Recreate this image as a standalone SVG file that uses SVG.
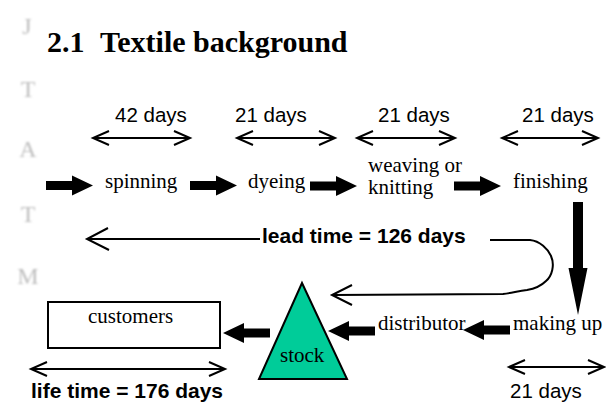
<svg xmlns="http://www.w3.org/2000/svg" width="606" height="402" viewBox="0 0 606 402">
<style>
.serif{font-family:"Liberation Serif","Times New Roman",serif;font-size:21px;fill:#000}
.sans{font-family:"Liberation Sans",Arial,sans-serif;font-size:20.5px;fill:#000}
.bold{font-family:"Liberation Sans",Arial,sans-serif;font-size:21px;font-weight:bold;fill:#000}
.title{font-family:"Liberation Serif","Times New Roman",serif;font-size:30px;font-weight:bold;fill:#000}
.wm{font-family:"Liberation Serif","Times New Roman",serif;font-size:24px;fill:#bdbdbd;text-anchor:middle}
.thin{stroke:#000;stroke-width:2;fill:none}
.block{fill:#000}
</style>
<defs>
<marker id="v" markerUnits="userSpaceOnUse" markerWidth="20" markerHeight="18" viewBox="-18 -9 20 18" refX="0" refY="0" orient="auto-start-reverse" overflow="visible">
<path d="M-16,-7 L0,0 L-16,7" fill="none" stroke="#000" stroke-width="2"/>
</marker>
<path id="blk" d="M0,-4.5 H26 V-10 L47,0 L26,10 V4.5 H0 Z"/>
<filter id="soft" x="-20%" y="-20%" width="140%" height="140%"><feGaussianBlur stdDeviation="0.9"/></filter>
</defs>

<g id="watermark" filter="url(#soft)">
<text class="wm" x="27" y="34">J</text>
<text class="wm" x="28" y="97">T</text>
<text class="wm" x="28" y="157">A</text>
<text class="wm" x="28" y="222">T</text>
<text class="wm" x="28" y="284">M</text>
</g>

<g id="title">
<text class="title" x="47" y="52">2.1</text>
<text class="title" x="100" y="52">Textile background</text>
</g>

<g id="durations">
<text class="sans" x="115" y="122">42 days</text>
<text class="sans" x="235" y="122">21 days</text>
<text class="sans" x="378" y="122">21 days</text>
<text class="sans" x="522" y="122">21 days</text>
<text class="sans" x="510" y="398">21 days</text>
<text class="bold" x="262" y="243">lead time = 126 days</text>
<text class="bold" x="31" y="398">life time = 176 days</text>
</g>

<g id="spinning"><text class="serif" x="105" y="188">spinning</text></g>
<g id="dyeing"><text class="serif" x="248" y="188">dyeing</text></g>
<g id="weaving"><text class="serif" x="368" y="172">weaving or</text><text class="serif" x="368" y="194">knitting</text></g>
<g id="finishing"><text class="serif" x="513" y="188">finishing</text></g>
<g id="making-up"><text class="serif" x="513" y="330">making up</text></g>
<g id="distributor"><text class="serif" x="378" y="330">distributor</text></g>
<g id="stock">
<polygon points="302,283 347,379 259,379" fill="#00cc99" stroke="#000" stroke-width="2" stroke-linejoin="miter"/>
<text class="serif" x="280" y="362">stock</text>
</g>
<g id="customers">
<rect x="48" y="302" width="172" height="46" fill="#fff" stroke="#000" stroke-width="2"/>
<text class="serif" x="88" y="323">customers</text>
</g>

<g id="connectors">
<line class="thin" x1="93" y1="138" x2="190" y2="138" marker-start="url(#v)" marker-end="url(#v)"/>
<line class="thin" x1="237" y1="138" x2="335" y2="138" marker-start="url(#v)" marker-end="url(#v)"/>
<line class="thin" x1="357" y1="138" x2="455" y2="138" marker-start="url(#v)" marker-end="url(#v)"/>
<line class="thin" x1="502" y1="138" x2="598" y2="138" marker-start="url(#v)" marker-end="url(#v)"/>
<line class="thin" x1="31" y1="369" x2="225" y2="369" marker-start="url(#v)" marker-end="url(#v)"/>
<line class="thin" x1="509" y1="367" x2="604" y2="367" marker-start="url(#v)" marker-end="url(#v)"/>

<use href="#blk" class="block" transform="translate(46,185.5)"/>
<use href="#blk" class="block" transform="translate(190,185.5)"/>
<use href="#blk" class="block" transform="translate(310,186)"/>
<use href="#blk" class="block" transform="translate(454,186)"/>
<use href="#blk" class="block" transform="translate(510,330) rotate(180)"/>
<use href="#blk" class="block" transform="translate(375,331) rotate(180)"/>
<use href="#blk" class="block" transform="translate(270,333) rotate(180)"/>
<path class="block" d="M573,202 H583 V268 H587.5 L578,315 L568.5,268 H573 Z"/>

<path class="thin" d="M260,239 H87 M108,228 L87,239 L109,250"/>
<path class="thin" d="M490,240 H530 C540,241 548,249 551,256 C555,265 552,276 546,281 C540,287 533,289 527,290 C518,291 512,293 503,294 L332,295 M352,285 L332,295 L352,305"/>
</g>
</svg>
